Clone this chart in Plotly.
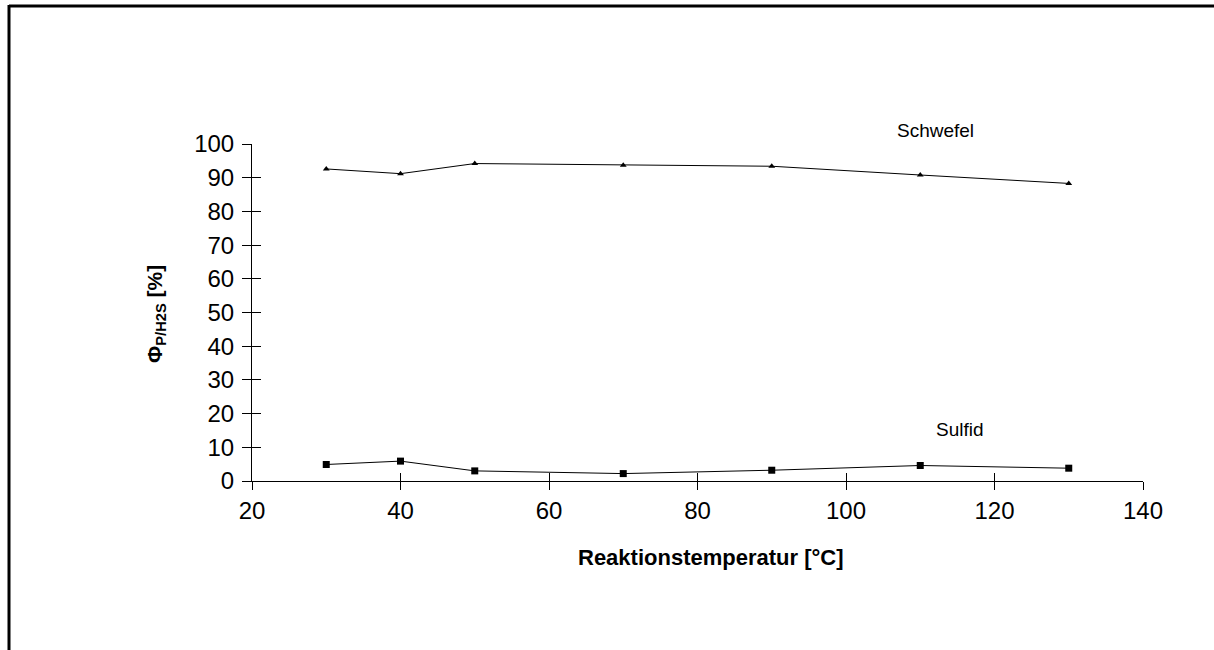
import plotly.graph_objects as go

temps = [30, 40, 50, 70, 90, 110, 130]
schwefel = [92.6, 91.2, 94.2, 93.7, 93.4, 90.8, 88.3]
sulfid = [4.9, 5.9, 3.0, 2.2, 3.2, 4.6, 3.8]

x_ticks = [20, 40, 60, 80, 100, 120, 140]
y_ticks = [0, 10, 20, 30, 40, 50, 60, 70, 80, 90, 100]

FONT = "Arial, Liberation Sans, sans-serif"

fig = go.Figure()
fig.add_trace(go.Scatter(
    x=temps, y=schwefel, mode="lines+markers", name="Schwefel",
    line=dict(color="black", width=1),
    marker=dict(symbol="triangle-up", size=6, color="black"),
    cliponaxis=False,
))
fig.add_trace(go.Scatter(
    x=temps, y=sulfid, mode="lines+markers", name="Sulfid",
    line=dict(color="black", width=1),
    marker=dict(symbol="square", size=7, color="black"),
    cliponaxis=False,
))
# empty trace to register the overlay axes (inside ticks -> crossing ticks)
fig.add_trace(go.Scatter(x=[None], y=[None], xaxis="x2", yaxis="y2",
                         showlegend=False, hoverinfo="skip"))

axis_common = dict(showgrid=False, zeroline=False)

fig.update_layout(
    width=1214, height=650,
    margin=dict(l=252, r=71, t=144, b=169),
    paper_bgcolor="white", plot_bgcolor="white",
    showlegend=False,
    font=dict(family=FONT, color="black"),
    xaxis=dict(range=[20, 140], tickvals=x_ticks, ticks="outside", ticklen=8,
               tickcolor="black", tickwidth=1, showline=True, linecolor="black",
               linewidth=1, tickfont=dict(size=24, family=FONT, color="black"),
               **axis_common),
    yaxis=dict(range=[0, 100], tickvals=y_ticks, ticks="outside", ticklen=9,
               tickcolor="black", tickwidth=1, showline=True, linecolor="black",
               linewidth=1, tickfont=dict(size=24, family=FONT, color="black"),
               ticklabelstandoff=3, **axis_common),
    xaxis2=dict(range=[20, 140], tickvals=x_ticks, ticks="inside", ticklen=8,
                tickcolor="black", tickwidth=1, showticklabels=False,
                overlaying="x", anchor="y", side="bottom", showline=False,
                **axis_common),
    yaxis2=dict(range=[0, 100], tickvals=y_ticks, ticks="inside", ticklen=9,
                tickcolor="black", tickwidth=1, showticklabels=False,
                overlaying="y", anchor="x", side="left", showline=False,
                **axis_common),
)

fig.add_annotation(x=(935.5 - 252) / 891, y=(481 - 131) / 337, xref="paper", yref="paper",
                   text="Schwefel", showarrow=False,
                   font=dict(size=19, family=FONT, color="black"),
                   xanchor="center", yanchor="middle")
fig.add_annotation(x=115.4, y=15.4, xref="x", yref="y", text="Sulfid",
                   showarrow=False, font=dict(size=19, family=FONT, color="black"),
                   xanchor="center", yanchor="middle")

# axis titles
fig.add_annotation(x=(711 - 252) / 891, y=(481 - 557) / 337, xref="paper", yref="paper",
                   text="<b>Reaktionstemperatur [°C]</b>", showarrow=False,
                   font=dict(size=22, family=FONT, color="black"),
                   xanchor="center", yanchor="middle")
fig.add_annotation(x=(156 - 252) / 891, y=(481 - 314) / 337, xref="paper", yref="paper",
                   text="<b>Φ<sub>P/H2S</sub> [%]</b>", showarrow=False, textangle=-90,
                   font=dict(size=21, family=FONT, color="black"),
                   xanchor="center", yanchor="middle")

# page frame (top and left edges)
fig.add_shape(type="line", xref="paper", yref="paper",
              x0=(9 - 252) / 891, x1=1.2, y0=(481 - 6) / 337, y1=(481 - 6) / 337,
              line=dict(color="black", width=3))
fig.add_shape(type="line", xref="paper", yref="paper",
              x0=(9 - 252) / 891, x1=(9 - 252) / 891, y0=(481 - 5) / 337, y1=-0.7,
              line=dict(color="black", width=3))

fig.write_html("out.html")
